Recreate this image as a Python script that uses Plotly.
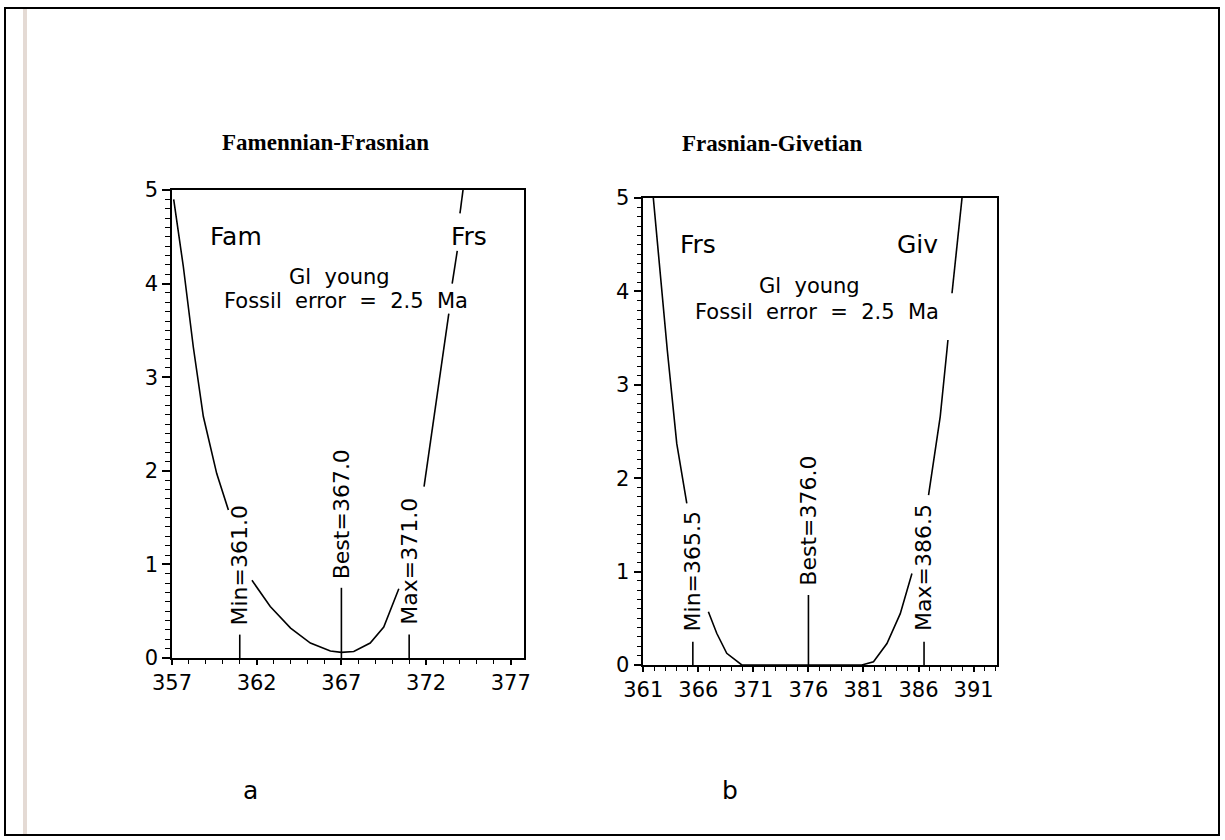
import plotly.graph_objects as go

# ---------------- data ----------------
# Panel a: Famennian-Frasnian (None = gap where text sits on the curve)
a_x = [357.1, 357.67, 358.26, 358.85, 359.64, 360.33, None,
       361.72, 362.8, 364.0, 365.17, 366.35, 367.0, 367.73, 368.7, 369.5, 370.39, None,
       371.88, 372.47, 373.06, 373.34, None, 373.54, 373.84, None, 374.0, 374.18]
a_y = [4.9, 4.18, 3.32, 2.58, 1.97, 1.58, None,
       0.83, 0.55, 0.32, 0.16, 0.075, 0.06, 0.07, 0.16, 0.33, 0.74, None,
       1.83, 2.58, 3.29, 3.68, None, 4.0, 4.35, None, 4.75, 5.0]
a_marks = [361.0, 367.0, 371.0]
a_mark_heights = [0.25, 0.75, 0.25]
a_mark_names = ["Min", "Best", "Max"]
a_label_y = [0.985, 1.54, 1.03]
a_ticks = [357, 362, 367, 372, 377]

# Panel b: Frasnian-Givetian
b_x = [361.91, 363.18, 364.04, 364.95, None,
       366.91, 367.67, 368.58, 369.95, 380.85, 381.91, 383.13, 384.34, 385.4, None,
       386.91, 387.97, 388.58, 388.67, None, 389.04, 389.95]
b_y = [5.0, 3.37, 2.37, 1.73, None,
       0.57, 0.34, 0.125, 0.0, 0.0, 0.035, 0.23, 0.55, 0.98, None,
       1.82, 2.66, 3.37, 3.48, None, 3.98, 5.0]
b_marks = [365.5, 376.0, 386.5]
b_mark_heights = [0.25, 0.75, 0.25]
b_mark_names = ["Min", "Best", "Max"]
b_label_y = [1.0, 1.55, 1.04]
b_ticks = [361, 366, 371, 376, 381, 386, 391]

y_ticks = [0, 1, 2, 3, 4, 5]

W, H = 1225, 840
SANS = "DejaVu Sans"
SERIF = "Liberation Serif"
NB = "\u00a0"

fig = go.Figure()


def mark_lines(xs, hs):
    mx, my = [], []
    for xv, hv in zip(xs, hs):
        mx += [xv, xv, None]
        my += [0, hv, None]
    return mx, my


line_style = dict(color="black", width=1.6)

fig.add_trace(go.Scatter(x=a_x, y=a_y, mode="lines", line=line_style,
                         xaxis="x", yaxis="y", connectgaps=False, hoverinfo="skip"))
mx, my = mark_lines(a_marks, a_mark_heights)
fig.add_trace(go.Scatter(x=mx, y=my, mode="lines", line=line_style,
                         xaxis="x", yaxis="y", hoverinfo="skip"))

fig.add_trace(go.Scatter(x=b_x, y=b_y, mode="lines", line=line_style,
                         xaxis="x2", yaxis="y2", connectgaps=False, hoverinfo="skip"))
mx, my = mark_lines(b_marks, b_mark_heights)
fig.add_trace(go.Scatter(x=mx, y=my, mode="lines", line=line_style,
                         xaxis="x2", yaxis="y2", hoverinfo="skip"))

tickfont = dict(family=SANS, size=21, color="black")


def xaxis(rng, dom, ticks, anchor):
    return dict(range=rng, domain=dom, tickvals=ticks, ticktext=[str(t) for t in ticks],
                showline=True, linecolor="black", linewidth=1.5, mirror=True,
                ticks="outside", ticklen=5, tickwidth=1.5, tickcolor="black",
                minor=dict(dtick=1, tick0=ticks[0], ticks="outside", ticklen=4,
                           tickwidth=1.2, tickcolor="black", showgrid=False),
                showgrid=False, zeroline=False, tickfont=tickfont, fixedrange=True,
                automargin=False, anchor=anchor)


def yaxis(dom, anchor):
    return dict(range=[0, 5], domain=dom, tickvals=y_ticks, ticktext=[str(t) for t in y_ticks],
                showline=True, linecolor="black", linewidth=1.5, mirror=True,
                ticks="outside", ticklen=8, tickwidth=1.5, tickcolor="black",
                minor=dict(dtick=0.1, tick0=0, ticks="outside", ticklen=5,
                           tickwidth=1.2, tickcolor="black", showgrid=False),
                showgrid=False, zeroline=False, tickfont=tickfont, anchor=anchor,
                fixedrange=True, automargin=False)


fig.update_layout(
    template="none",
    width=W, height=H,
    margin=dict(l=0, r=0, t=0, b=0, pad=0, autoexpand=False),
    paper_bgcolor="white", plot_bgcolor="white",
    showlegend=False,
    xaxis=xaxis([357, 377.75], [172 / W, 523.5 / W], a_ticks, "y"),
    yaxis=yaxis([(H - 658) / H, (H - 190) / H], "x"),
    xaxis2=xaxis([361, 393.1], [643.3 / W, 996.7 / W], b_ticks, "y2"),
    yaxis2=yaxis([(H - 665) / H, (H - 198) / H], "x2"),
)

ann = []
txt = dict(family=SANS, color="black")

for ax, ay, stage_l, stage_r, xl, xr, cx1, cx2, (yg, yf) in [
    ("x", "y", "Fam", "Frs", 359.13, 373.33, 366.9, 367.28, (4.07, 3.81)),
    ("x2", "y2", "Frs", "Giv", 364.18, 387.97, 376.06, 376.8, (4.06, 3.78)),
]:
    ann.append(dict(x=xl, y=4.5, xref=ax, yref=ay, text=stage_l, showarrow=False,
                    xanchor="left", font=dict(txt, size=25)))
    ann.append(dict(x=xr, y=4.5, xref=ax, yref=ay, text=stage_r, showarrow=False,
                    xanchor="left" if ax == "x" else "right", font=dict(txt, size=25)))
    ann.append(dict(x=cx1, y=yg, xref=ax, yref=ay, text="Gl" + NB + " young", showarrow=False,
                    xanchor="center", font=dict(txt, size=21)))
    ann.append(dict(x=cx2, y=yf, xref=ax, yref=ay,
                    text="Fossil" + NB + " error" + NB + " =" + NB + " 2.5" + NB + " Ma",
                    showarrow=False, xanchor="center", font=dict(txt, size=21)))

for ax, ay, marks, names, ly in [("x", "y", a_marks, a_mark_names, a_label_y),
                                 ("x2", "y2", b_marks, b_mark_names, b_label_y)]:
    for m, n, yy in zip(marks, names, ly):
        ann.append(dict(x=m, y=yy, xref=ax, yref=ay, text=f"{n}={m:.1f}", showarrow=False,
                        textangle=-90, xanchor="center", yanchor="middle",
                        font=dict(txt, size=22)))

# panel titles and letters
ann.append(dict(x=325 / W, y=1 - 142 / H, xref="paper", yref="paper",
                text="<b>Famennian-Frasnian</b>", showarrow=False,
                xanchor="center", yanchor="middle",
                font=dict(family=SERIF, size=23, color="black")))
ann.append(dict(x=772 / W, y=1 - 143 / H, xref="paper", yref="paper",
                text="<b>Frasnian-Givetian</b>", showarrow=False,
                xanchor="center", yanchor="middle",
                font=dict(family=SERIF, size=23, color="black")))
ann.append(dict(x=250 / W, y=1 - 790 / H, xref="paper", yref="paper", text="a",
                xanchor="center", yanchor="middle",
                showarrow=False, font=dict(txt, size=25)))
ann.append(dict(x=730 / W, y=1 - 790 / H, xref="paper", yref="paper", text="b",
                xanchor="center", yanchor="middle",
                showarrow=False, font=dict(txt, size=25)))

fig.update_layout(annotations=ann)

fig.add_shape(type="line", xref="paper", yref="paper",
              x0=25 / W, x1=25 / W, y0=1 - 835 / H, y1=1 - 8 / H,
              line=dict(color="rgb(228,218,212)", width=4), layer="below")
fig.add_shape(type="rect", xref="paper", yref="paper",
              x0=5 / W, x1=1219 / W, y0=1 - 835 / H, y1=1 - 8 / H,
              line=dict(color="black", width=2))

fig.write_html("out.html", config={"displayModeBar": False},
               post_script="document.body.style.margin='0px';document.body.style.overflow='hidden';")
